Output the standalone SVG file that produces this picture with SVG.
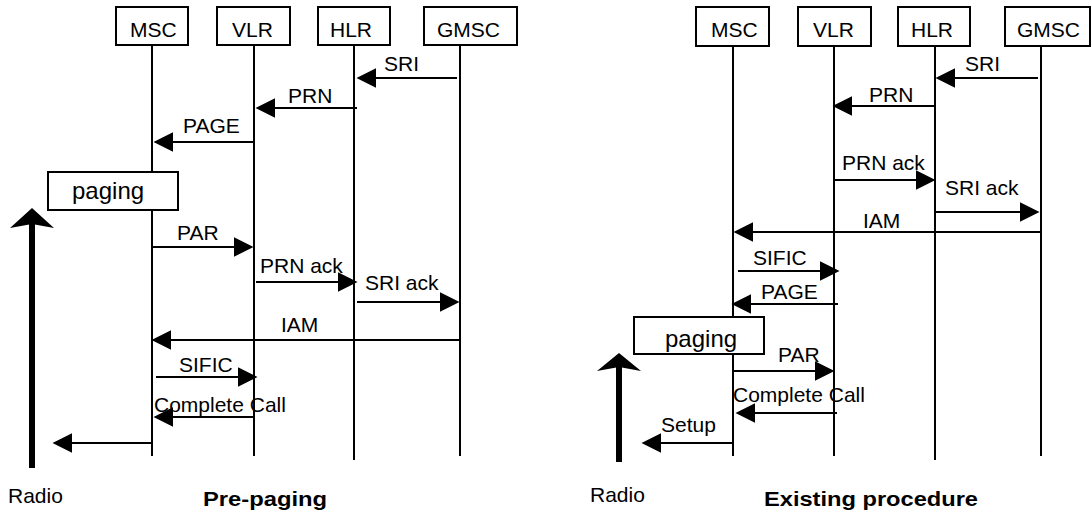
<svg xmlns="http://www.w3.org/2000/svg" width="1092" height="515" viewBox="0 0 1092 515">
<style>
.box{fill:#fff;stroke:#000;stroke-width:2}
.life{stroke:#000;stroke-width:2}
.msg{stroke:#000;stroke-width:2;marker-end:url(#ah)}
text{font-family:"Liberation Sans",Arial,sans-serif;font-size:21px;fill:#000}
.pg{font-size:24px}
.title{font-weight:bold;font-size:20px}
</style>
<defs>
<marker id="ah" markerUnits="userSpaceOnUse" markerWidth="20" markerHeight="20" viewBox="0 0 19 19" refX="9" refY="9.5" orient="auto">
<path d="M0,0 L19,9.5 L0,19 z" fill="#000"/>
</marker>
</defs>
<rect width="1092" height="515" fill="#fff"/>

<!-- LEFT: Pre-paging -->
<g id="left-lifelines">
<line class="life" x1="152" y1="45" x2="152" y2="456"/>
<line class="life" x1="254" y1="45" x2="254" y2="456"/>
<line class="life" x1="354" y1="45" x2="354" y2="460"/>
<line class="life" x1="460" y1="45" x2="460" y2="456"/>
</g>
<g id="l-msc"><rect class="box" x="116" y="7" width="72" height="38"/><text x="130" y="37">MSC</text></g>
<g id="l-vlr"><rect class="box" x="217" y="7" width="73" height="38"/><text x="232" y="37">VLR</text></g>
<g id="l-hlr"><rect class="box" x="318" y="7" width="72" height="38"/><text x="330" y="37">HLR</text></g>
<g id="l-gmsc"><rect class="box" x="424" y="7" width="93" height="38"/><text x="437" y="37">GMSC</text></g>
<g id="l-paging"><rect class="box" x="48" y="172" width="130" height="38"/><text class="pg" x="72" y="199">paging</text></g>
<g id="l-radio">
<rect x="29" y="224" width="6" height="244" fill="#000"/>
<polygon points="32,208 54,228 32,224 10,228" fill="#000"/>
<text x="8" y="503">Radio</text>
</g>
<g id="left-connectors">
<line class="msg" x1="457" y1="78" x2="367" y2="78"/>
<line class="msg" x1="357" y1="108" x2="266" y2="108"/>
<line class="msg" x1="254" y1="142" x2="164" y2="142"/>
<line class="msg" x1="152" y1="247" x2="243" y2="247"/>
<line class="msg" x1="256" y1="282" x2="347" y2="282"/>
<line class="msg" x1="357" y1="302" x2="449" y2="302"/>
<line class="msg" x1="460" y1="340" x2="162" y2="340"/>
<line class="msg" x1="156" y1="377" x2="247" y2="377"/>
<line class="msg" x1="255" y1="417" x2="164" y2="417"/>
<line class="msg" x1="153" y1="443" x2="63" y2="443"/>
</g>
<g id="left-labels">
<text x="384" y="71">SRI</text>
<text x="288" y="103">PRN</text>
<text x="183" y="133">PAGE</text>
<text x="177" y="240">PAR</text>
<text x="260" y="273">PRN ack</text>
<text x="365" y="290">SRI ack</text>
<text x="281" y="332">IAM</text>
<text x="179" y="372">SIFIC</text>
<text x="154" y="412">Complete Call</text>
<text class="title" x="203" y="506" textLength="124" lengthAdjust="spacingAndGlyphs">Pre-paging</text>
</g>

<!-- RIGHT: Existing procedure -->
<g id="right-lifelines">
<line class="life" x1="733" y1="46" x2="733" y2="456"/>
<line class="life" x1="834" y1="46" x2="834" y2="456"/>
<line class="life" x1="935" y1="46" x2="935" y2="460"/>
<line class="life" x1="1041" y1="46" x2="1041" y2="456"/>
</g>
<g id="r-msc"><rect class="box" x="696" y="7" width="73" height="39"/><text x="711" y="37">MSC</text></g>
<g id="r-vlr"><rect class="box" x="798" y="7" width="73" height="39"/><text x="813" y="37">VLR</text></g>
<g id="r-hlr"><rect class="box" x="898" y="7" width="72" height="39"/><text x="911" y="37">HLR</text></g>
<g id="r-gmsc"><rect class="box" x="1005" y="7" width="85" height="39"/><text x="1017" y="37">GMSC</text></g>
<g id="r-paging"><rect class="box" x="634" y="317" width="130" height="37"/><text class="pg" x="665" y="347">paging</text></g>
<g id="r-radio">
<rect x="616" y="366" width="6" height="96" fill="#000"/>
<polygon points="619,353 641,371 619,367 597,371" fill="#000"/>
<text x="590" y="502">Radio</text>
</g>
<g id="right-connectors">
<line class="msg" x1="1038" y1="78" x2="946" y2="78"/>
<line class="msg" x1="935" y1="106" x2="843" y2="106"/>
<line class="msg" x1="834" y1="180" x2="925" y2="180"/>
<line class="msg" x1="935" y1="212" x2="1029" y2="212"/>
<line class="msg" x1="1041" y1="232" x2="744" y2="232"/>
<line class="msg" x1="738" y1="271" x2="829" y2="271"/>
<line class="msg" x1="838" y1="304" x2="742" y2="304"/>
<line class="msg" x1="733" y1="371" x2="824" y2="371"/>
<line class="msg" x1="837" y1="413" x2="746" y2="413"/>
<line class="msg" x1="733" y1="443" x2="652" y2="443"/>
</g>
<g id="right-labels">
<text x="965" y="71">SRI</text>
<text x="869" y="102">PRN</text>
<text x="842" y="170">PRN ack</text>
<text x="945" y="195">SRI ack</text>
<text x="863" y="228">IAM</text>
<text x="753" y="265">SIFIC</text>
<text x="761" y="299">PAGE</text>
<text x="778" y="362">PAR</text>
<text x="733" y="402">Complete Call</text>
<text x="661" y="432">Setup</text>
<text class="title" x="764" y="506" textLength="214" lengthAdjust="spacingAndGlyphs">Existing procedure</text>
</g>
</svg>
